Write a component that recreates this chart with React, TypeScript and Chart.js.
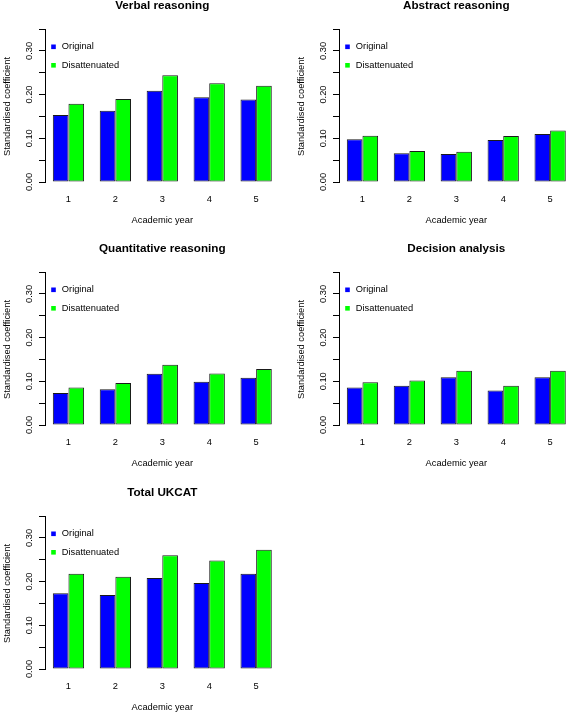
import React, { useEffect, useRef } from 'react';
import { Chart, registerables } from 'chart.js';

Chart.register(...registerables);

// ---------- data ----------
const years = ['1', '2', '3', '4', '5'];
const seriesLabels = ['Original', 'Disattenuated'];
const seriesColors = ['#0000FF', '#00FF00'];

const yTickValues = [0, 0.1, 0.2, 0.3];
const yTickLabels = ['0.00', '0.10', '0.20', '0.30'];
const yMin = 0;
const yMax = 0.35;
const yStep = 0.05;

const xTitle = 'Academic year';
const yTitle = 'Standardised coefficient';

const panelTitles = [
  'Verbal reasoning',
  'Abstract reasoning',
  'Quantitative reasoning',
  'Decision analysis',
  'Total UKCAT',
];

const verbalOriginal = [0.153, 0.163, 0.209, 0.194, 0.189];
const verbalDisattenuated = [0.179, 0.19, 0.244, 0.226, 0.22];
const abstractOriginal = [0.098, 0.066, 0.064, 0.096, 0.11];
const abstractDisattenuated = [0.106, 0.071, 0.069, 0.105, 0.118];
const quantOriginal = [0.073, 0.082, 0.117, 0.099, 0.108];
const quantDisattenuated = [0.086, 0.096, 0.138, 0.118, 0.128];
const decisionOriginal = [0.086, 0.09, 0.109, 0.079, 0.109];
const decisionDisattenuated = [0.098, 0.102, 0.124, 0.09, 0.124];
const totalOriginal = [0.173, 0.169, 0.208, 0.197, 0.218];
const totalDisattenuated = [0.218, 0.211, 0.26, 0.248, 0.273];

const panelSeries = [
  [verbalOriginal, verbalDisattenuated],
  [abstractOriginal, abstractDisattenuated],
  [quantOriginal, quantDisattenuated],
  [decisionOriginal, decisionDisattenuated],
  [totalOriginal, totalDisattenuated],
];

// ---------- layout ----------
const FONT = '"Liberation Sans", Arial, Helvetica, sans-serif';
const CANVAS_W = 300;
const CANVAS_H = 240;
const panelPositions = [
  { left: 0, top: 0 },
  { left: 294, top: 0 },
  { left: 0, top: 243 },
  { left: 294, top: 243 },
  { left: 0, top: 487 },
];
const AXIS_W = 45; // chart area left
const AREA_TOP = 29;
const AREA_BOTTOM = 182;
const AREA_W = 234.6;
const XAXIS_H = 40;

function makePlugin(title: string) {
  return {
    id: 'rStyle',
    afterDraw(chart: any) {
      const { ctx, chartArea } = chart;
      const y = chart.scales.y;
      const cx = (chartArea.left + chartArea.right) / 2;
      const cy = (chartArea.top + chartArea.bottom) / 2;
      ctx.save();
      ctx.fillStyle = '#000';
      ctx.textAlign = 'center';
      ctx.textBaseline = 'middle';
      // y tick labels (rotated, R style)
      ctx.font = `9.3px ${FONT}`;
      yTickValues.forEach((v, i) => {
        const py = y.getPixelForValue(v);
        ctx.save();
        ctx.translate(chartArea.left - 15.5, py);
        ctx.rotate(-Math.PI / 2);
        ctx.fillText(yTickLabels[i], 0, 0);
        ctx.restore();
      });
      // y title
      ctx.save();
      ctx.translate(chartArea.left - 37.5, cy + 1);
      ctx.rotate(-Math.PI / 2);
      ctx.fillText(yTitle, 0, 0);
      ctx.restore();
      // x title
      ctx.fillText(xTitle, cx, chartArea.bottom + 38.5);
      // legend
      ctx.textAlign = 'left';
      seriesLabels.forEach((lab, i) => {
        const ly = chartArea.top + 17.8 + i * 18.5;
        ctx.fillStyle = seriesColors[i];
        ctx.fillRect(chartArea.left + 6.2, ly - 2.3, 4.6, 4.6);
        ctx.fillStyle = '#000';
        ctx.fillText(lab, chartArea.left + 16.8, ly);
      });
      // main title
      ctx.textAlign = 'center';
      ctx.font = `bold 11.7px ${FONT}`;
      ctx.fillText(title, cx, chartArea.top - 23);
      ctx.restore();
    },
  };
}

function Panel({ idx }: { idx: number }) {
  const ref = useRef<HTMLCanvasElement | null>(null);
  useEffect(() => {
    if (!ref.current) return;
    const series = panelSeries[idx];
    const chart = new Chart(ref.current, {
      type: 'bar',
      data: {
        labels: years,
        datasets: series.map((vals, i) => ({
          label: seriesLabels[i],
          data: vals,
          backgroundColor: seriesColors[i],
          borderColor: '#1a1a1a',
          borderWidth: 1,
          borderSkipped: false,
          categoryPercentage: 2 / 3,
          barPercentage: 1,
        })),
      },
      options: {
        responsive: false,
        animation: false,
        events: [],
        layout: {
          padding: {
            left: 0,
            top: AREA_TOP,
            right: CANVAS_W - AXIS_W - AREA_W,
            bottom: CANVAS_H - AREA_BOTTOM - XAXIS_H,
          },
        },
        plugins: {
          legend: { display: false },
          tooltip: { enabled: false },
          title: { display: false },
        },
        scales: {
          x: {
            type: 'category',
            offset: true,
            grid: { display: false, drawTicks: false },
            border: { display: false },
            ticks: {
              color: '#000',
              font: { family: FONT, size: 9.3 },
              padding: 12,
              maxRotation: 0,
              minRotation: 0,
            },
            afterFit: (s: any) => {
              s.height = XAXIS_H;
            },
          },
          y: {
            type: 'linear',
            min: yMin,
            max: yMax,
            ticks: { stepSize: yStep, display: false },
            grid: {
              display: true,
              drawOnChartArea: false,
              drawTicks: true,
              tickLength: 6,
              color: '#000',
              lineWidth: 1,
            },
            border: { display: true, color: '#000', width: 1 },
            afterFit: (s: any) => {
              s.width = AXIS_W;
            },
          },
        },
      },
      plugins: [makePlugin(panelTitles[idx])],
    });
    return () => chart.destroy();
  }, [idx]);
  const pos = panelPositions[idx];
  return (
    <canvas
      ref={ref}
      width={CANVAS_W}
      height={CANVAS_H}
      style={{
        position: 'absolute',
        left: pos.left,
        top: pos.top,
        width: CANVAS_W,
        height: CANVAS_H,
      }}
    />
  );
}

export default function App() {
  return (
    <div
      style={{
        position: 'fixed',
        left: 0,
        top: 0,
        width: 567,
        height: 715,
        overflow: 'hidden',
        background: '#fff',
      }}
    >
      {panelTitles.map((_, i) => (
        <Panel key={i} idx={i} />
      ))}
    </div>
  );
}
